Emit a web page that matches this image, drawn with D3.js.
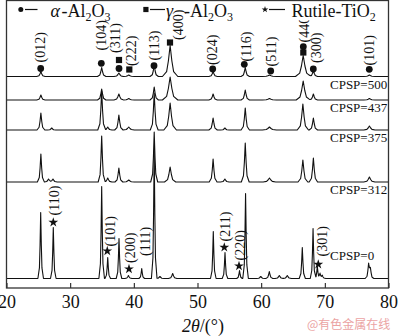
<!DOCTYPE html>
<html>
<head>
<meta charset="utf-8">
<script src="https://cdn.jsdelivr.net/npm/d3@7"></script>
<style>
  html, body { margin: 0; padding: 0; background: #fff; }
  svg { display: block; }
  text { font-family: "Liberation Serif", "Times New Roman", serif; fill: #111; }
</style>
</head>
<body>
<svg id="chart" width="400" height="336"></svg>
<script>
// XRD patterns of the coatings; each peak is [2θ (°), intensity (a.u.), FWHM (°)]
const samples = ["CPSP=500", "CPSP=437", "CPSP=375", "CPSP=312", "CPSP=0"];
const offsets = [211.5, 188, 158, 106, 9.5];

const peaks500 = [[25.4,5,0.3],[34.95,9,0.3],[37.65,3.5,0.35],[39.2,1.5,0.4],[43.2,11,0.3],[45.7,31,0.55],
  [52.45,5,0.3],[57.5,9,0.3],[61.3,1.5,0.5],[66.6,21,0.55],[68.2,6,0.3],[77.0,1.5,0.4]];
const peaks437 = [[25.4,5,0.3],[34.95,11,0.3],[37.65,6,0.35],[39.2,1.5,0.4],[43.2,13,0.3],[45.7,23,0.55],
  [52.45,6,0.3],[57.5,10,0.3],[61.3,1.5,0.5],[66.6,19,0.5],[68.2,6,0.3],[77.0,1.5,0.4]];
const peaks375 = [[25.4,17,0.28],[27.1,2,0.3],[34.95,39,0.28],[35.9,3,0.3],[37.65,15,0.3],[39.2,3,0.4],
  [43.2,37,0.28],[45.7,27,0.45],[52.45,12,0.3],[54.3,2,0.3],[57.5,22,0.3],[61.3,3,0.5],[66.55,26,0.4],
  [68.2,12,0.3],[77.0,4,0.4]];
const peaks312 = [[25.4,28,0.25],[26.6,3,0.3],[27.3,3,0.3],[34.95,46,0.25],[35.9,4,0.3],[37.65,14,0.28],
  [39.2,2,0.4],[43.2,50,0.25],[45.7,15,0.4],[52.45,23,0.28],[54.3,3,0.3],[57.5,39,0.28],[61.3,4,0.45],
  [66.55,22,0.35],[68.2,24,0.3],[77.0,5,0.4]];
const peaks0 = [[25.37,66,0.2],[27.35,51,0.2],[34.95,92,0.2],[35.9,21,0.2],[37.67,40,0.2],[39.15,3,0.25],
  [41.24,10,0.2],[43.2,128,0.2],[44.1,2,0.3],[46.1,5,0.3],[52.48,47,0.2],[54.32,26,0.2],[56.6,8,0.2],
  [57.55,85,0.2],[59.93,2,0.3],[61.28,7,0.25],[62.85,3,0.3],[64.1,3,0.3],[66.46,31,0.22],[68.15,50,0.2],
  [68.82,12,0.2],[69.25,5,0.2],[69.6,3,0.25],[76.88,14,0.25],[77.15,9,0.25]];
const patterns = [peaks500, peaks437, peaks375, peaks312, peaks0];

// Phase markers: [2θ, level a.u.]
const alphaMarks = [[25.37,219.5],[34.89,224.7],[37.67,219.5],[43.17,222.3],[52.39,219],[57.35,223.7],
  [61.5,217],[66.62,241.3],[68.19,219],[76.98,218.7]];
const gammaMarks = [[37.67,228],[39.29,218.5],[45.68,245.5],[66.62,235.5]];
const rutileMarks = [[27.35,65.7],[35.83,37],[39.24,19],[54.21,40.7],[56.52,22],[68.97,23.7]];

// Miller indices: [text, 2θ, level a.u. where the rotated text starts]
const hklLabels = [["(012)",25.37,225.5],["(104)",34.89,237.5],["(311)",37.04,235],["(222)",39.55,222],
  ["(113)",43.17,227.5],["(400)",46.94,248],["(024)",52.39,223],["(116)",57.7,226.5],["(511)",61.65,221.5],
  ["(440)",66.73,245.5],["(300)",68.72,225],["(101)",76.98,222.5],
  ["(110)",27.51,72.5],["(101)",36.26,41.5],["(200)",39.4,25],["(111)",41.75,32],["(211)",54.32,46.5],
  ["(220)",56.68,27.5],["(301)",69.55,31.5]];

const xTicks = [20, 30, 40, 50, 60, 70, 80];

const svg = d3.select("#chart");
const plotLeft = 6.5, plotRight = 388.5, plotTop = 0.5, plotBottom = 288;
const x = d3.scaleLinear().domain([20, 80]).range([plotLeft, plotRight]);
const y = d3.scaleLinear().domain([0, 287.5]).range([plotBottom, plotTop]);

// Sharp-tipped peak profile (piecewise linear, in FWHM units)
const knotPos = [-2.2, -1, -0.5, 0, 0.5, 1, 2.2];
const knotVal = [0, 0.16, 0.5, 1, 0.5, 0.16, 0];
function kernel(u) {
  if (u <= knotPos[0] || u >= knotPos[knotPos.length - 1]) return 0;
  for (let k = 1; k < knotPos.length; k++) {
    if (u <= knotPos[k]) {
      const t = (u - knotPos[k - 1]) / (knotPos[k] - knotPos[k - 1]);
      return knotVal[k - 1] + t * (knotVal[k] - knotVal[k - 1]);
    }
  }
  return 0;
}
function profile(peaks) {
  const xs = [20, 80];
  peaks.forEach(([p, , w]) => knotPos.forEach(k => xs.push(p + k * w)));
  xs.sort((a, b) => a - b);
  return xs.filter(t => t >= 20 && t <= 80)
    .map(t => [t, d3.sum(peaks, ([p, h, w]) => h * kernel((t - p) / w))]);
}

const line = d3.line().x(d => x(d[0])).y(d => d[1]);
const g = svg.append("g");

patterns.forEach((peaks, i) => {
  const pts = profile(peaks).map(([t, v]) => [t, y(offsets[i] + v)]);
  g.append("path").attr("d", line(pts)).attr("fill", "none")
    .attr("stroke", "#111").attr("stroke-width", 1.1).attr("stroke-linejoin", "round");
  const last = i === samples.length - 1;
  g.append("text").attr("x", x(70.81)).attr("y", y(offsets[i]) + (last ? -19 : 12))
    .attr("font-size", 13).text(samples[i]);
});

// markers
g.selectAll(".am").data(alphaMarks).join("circle")
  .attr("cx", d => x(d[0])).attr("cy", d => y(d[1])).attr("r", 3.4).attr("fill", "#111");
g.selectAll(".gm").data(gammaMarks).join("rect")
  .attr("x", d => x(d[0]) - 3.1).attr("y", d => y(d[1]) - 3.1).attr("width", 6.2).attr("height", 6.2)
  .attr("fill", "#111");
const star = d3.symbol(d3.symbolStar, 30);
g.selectAll(".rm").data(rutileMarks).join("path")
  .attr("d", star).attr("transform", d => `translate(${x(d[0])},${y(d[1])})`).attr("fill", "#111");

g.selectAll(".hkl").data(hklLabels).join("text")
  .attr("transform", d => `translate(${x(d[1])},${y(d[2])}) rotate(-90)`)
  .attr("dy", "0.34em").attr("font-size", 14).text(d => d[0]);

// x axis
const axis = d3.axisBottom(x).tickValues(xTicks).tickSizeInner(-5).tickSizeOuter(0).tickPadding(7);
const ax = svg.append("g").attr("transform", `translate(0,${plotBottom})`).call(axis);
ax.select(".domain").remove();
ax.selectAll(".tick line").attr("stroke", "#222").attr("stroke-width", 1.1);
ax.selectAll(".tick text").attr("font-size", 18).attr("font-family", "'Liberation Serif', serif").attr("fill", "#111");

const title = svg.append("text").attr("x", 203).attr("y", 332).attr("text-anchor", "middle").attr("font-size", 18);
title.append("tspan").attr("font-style", "italic").text("2θ");
title.append("tspan").text("/(°)");

// legend
const lg = svg.append("g");
lg.append("rect").attr("x", 258).attr("y", 1).attr("width", 130).attr("height", 19).attr("fill", "#fff");
const ly = 9.5;
lg.append("circle").attr("cx", 20.8).attr("cy", ly).attr("r", 2.5).attr("fill", "#111");
lg.append("line").attr("x1", 25).attr("x2", 37.5).attr("y1", ly).attr("y2", ly).attr("stroke", "#111").attr("stroke-width", 1.2);
lg.append("rect").attr("x", 143.3).attr("y", ly - 2.6).attr("width", 5.2).attr("height", 5.2).attr("fill", "#111");
lg.append("line").attr("x1", 150).attr("x2", 165).attr("y1", ly).attr("y2", ly).attr("stroke", "#111").attr("stroke-width", 1.2);
lg.append("path").attr("d", d3.symbol(d3.symbolStar, 14)).attr("transform", `translate(265,${ly})`).attr("fill", "#111");
lg.append("line").attr("x1", 269).attr("x2", 285).attr("y1", ly).attr("y2", ly).attr("stroke", "#111").attr("stroke-width", 1.2);

function formula(xGreek, greek, xRest, rest) {
  const tx = lg.append("text").attr("y", 17).attr("font-size", 18);
  if (greek) tx.append("tspan").attr("x", xGreek).attr("font-style", "italic").text(greek);
  rest.forEach((part, k) => {
    const sp = tx.append("tspan").text(part);
    if (k === 0) sp.attr("x", xRest);
    if (k % 2 === 1) sp.attr("font-size", 12).attr("dy", 4);
    else if (k > 0) sp.attr("dy", -4);
  });
}
formula(50.5, "α", 61.5, ["-Al", "2", "O", "3"]);
formula(166, "γ", 184, ["-Al", "2", "O", "3"]);
formula(null, null, 291.5, ["Rutile-TiO", "2"]);

// frame
svg.append("rect").attr("x", plotLeft).attr("y", plotTop).attr("width", plotRight - plotLeft)
  .attr("height", plotBottom - plotTop)
  .attr("fill", "none").attr("stroke", "#333").attr("stroke-width", 1.3);

// watermark
svg.append("text").attr("x", 307).attr("y", 329).attr("font-size", 12)
  .style("font-family", "'Noto Sans CJK SC', sans-serif").style("fill", "#eba3a3").text("@有色金属在线");
</script>
</body>
</html>
